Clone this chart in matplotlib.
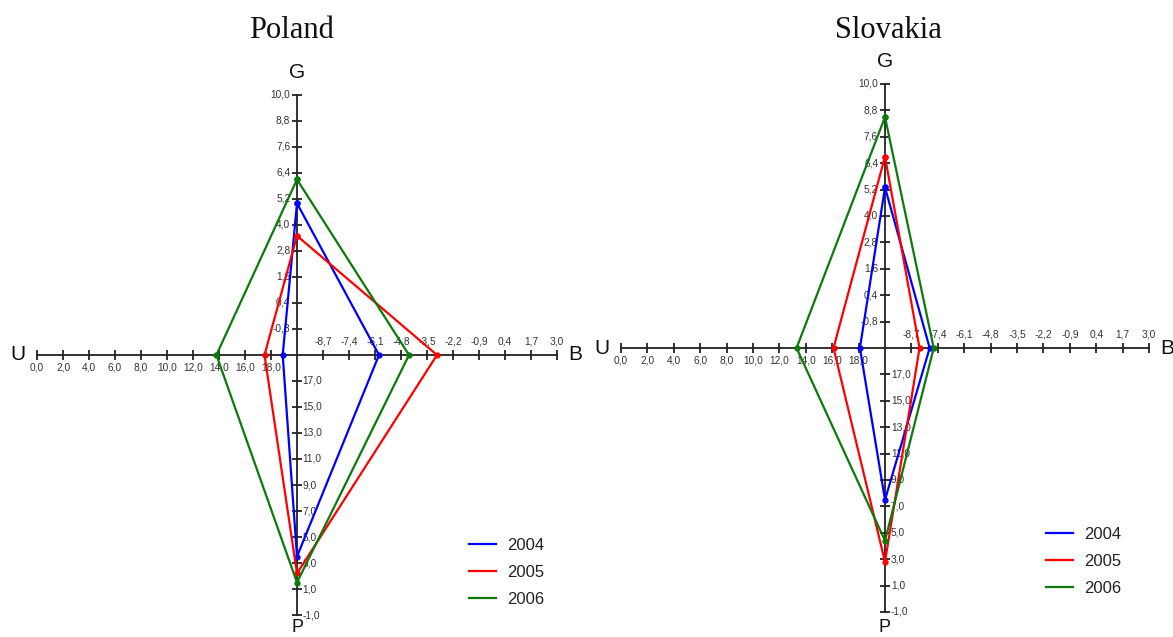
import matplotlib.pyplot as plt
from matplotlib.collections import LineCollection

years = ['2004', '2005', '2006']
colors = ['#0000ff', '#ff0000', '#0b7a0b']

# growth (G), external balance (B), unemployment (U), prices (P)
poland_g = [5.0, 3.5, 6.1]
poland_b = [-5.9, -3.0, -4.4]
poland_u = [18.9, 17.5, 13.8]
poland_p = [3.5, 2.2, 1.5]

slovakia_g = [5.3, 6.7, 8.5]
slovakia_b = [-7.8, -8.3, -7.6]
slovakia_u = [18.1, 16.1, 13.3]
slovakia_p = [7.5, 2.8, 4.4]

# value at the centre and at the outer end of each arm
g_range = (-2.0, 10.0)
b_range = (-10.0, 3.0)
u_range = (20.0, 0.0)
p_range = (19.0, -1.0)

g_ticks = [-0.8, 0.4, 1.6, 2.8, 4.0, 5.2, 6.4, 7.6, 8.8, 10.0]
b_ticks = [-8.7, -7.4, -6.1, -4.8, -3.5, -2.2, -0.9, 0.4, 1.7, 3.0]
u_ticks = [18.0, 16.0, 14.0, 12.0, 10.0, 8.0, 6.0, 4.0, 2.0, 0.0]
p_ticks = [17.0, 15.0, 13.0, 11.0, 9.0, 7.0, 5.0, 3.0, 1.0, -1.0]

W, H = 1173, 637
fig = plt.figure(figsize=(W / 100, H / 100), dpi=100)


def arm(v, rng):
    c, e = rng
    return (v - c) / (e - c) * 10.0


def fmt(v):
    return f'{v:.1f}'.replace('.', ',')


def panel(name, title_x, cx, cy, unit, x0, x1, g, b, u, p, leg_xy):
    # axes laid out in pixels so that one tick step == one data unit
    top, bot = 40, H
    ax = fig.add_axes([x0 / W, 1 - bot / H, (x1 - x0) / W, (bot - top) / H])
    ax.set_xlim((x0 - cx) / unit, (x1 - cx) / unit)
    ax.set_ylim((cy - bot) / unit, (cy - top) / unit)
    ax.axis('off')

    ax.plot([-10, 10], [0, 0], color='#222', lw=1.3, zorder=1)
    ax.plot([0, 0], [-10, 10], color='#222', lw=1.3, zorder=1)

    t = 0.2
    segs = []
    lab = dict(fontsize=7.3, color='#333', family='Liberation Sans')
    for v in g_ticks:
        y = arm(v, g_range)
        segs.append([(-t, y), (t, y)])
        ax.text(-t - 0.06, y, fmt(v), ha='right', va='center', **lab)
    for v in b_ticks:
        x = arm(v, b_range)
        segs.append([(x, -t), (x, t)])
        ax.text(x, t + 0.12, fmt(v), ha='center', va='bottom', **lab)
    for v in u_ticks:
        x = -arm(v, u_range)
        segs.append([(x, -t), (x, t)])
        ax.text(x, -t - 0.08, fmt(v), ha='center', va='top', **lab)
    for v in p_ticks:
        y = -arm(v, p_range)
        segs.append([(-t, y), (t, y)])
        ax.text(t + 0.02, y, fmt(v), ha='left', va='center', **lab)
    ax.add_collection(LineCollection(segs, colors='#222', lw=1.3, zorder=1))

    letter = dict(fontsize=15, color='#111', family='Liberation Sans',
                  ha='center', va='center')
    ax.text(0, 10.85, 'G', **letter)
    ax.text(10.7, 0, 'B', **letter)
    ax.text(-10.72, 0, 'U', **letter)
    ax.text(0, -(619 - cy) / unit, 'P', fontsize=13, color='#111',
            family='Liberation Sans', ha='center', va='top')

    for i, yr in enumerate(years):
        xs = [0, arm(b[i], b_range), 0, -arm(u[i], u_range), 0]
        ys = [arm(g[i], g_range), 0, -arm(p[i], p_range), 0, arm(g[i], g_range)]
        ax.plot(xs, ys, color=colors[i], lw=1.6, marker='o', ms=3.5,
                label=yr, zorder=3 + i)

    ax.legend(loc='upper left', bbox_to_anchor=(leg_xy[0] / W, 1 - leg_xy[1] / H),
              bbox_transform=fig.transFigure, frameon=False, borderpad=0,
              borderaxespad=0, handlelength=1.6, handletextpad=0.7,
              labelspacing=0.72, prop={'family': 'Liberation Sans', 'size': 12},
              labelcolor='#222', markerscale=0)

    fig.text(title_x / W, 1 - 30 / H, name, ha='center', va='center',
             fontsize=22, family='Liberation Serif', color='#111')


panel('Poland', 292, 297, 355, 26.0, 0, 590,
      poland_g, poland_b, poland_u, poland_p, (469, 538))
panel('Slovakia', 888, 885, 348, 26.4, 590, W,
      slovakia_g, slovakia_b, slovakia_u, slovakia_p, (1046, 527))

fig.savefig('out.png', dpi=100)
